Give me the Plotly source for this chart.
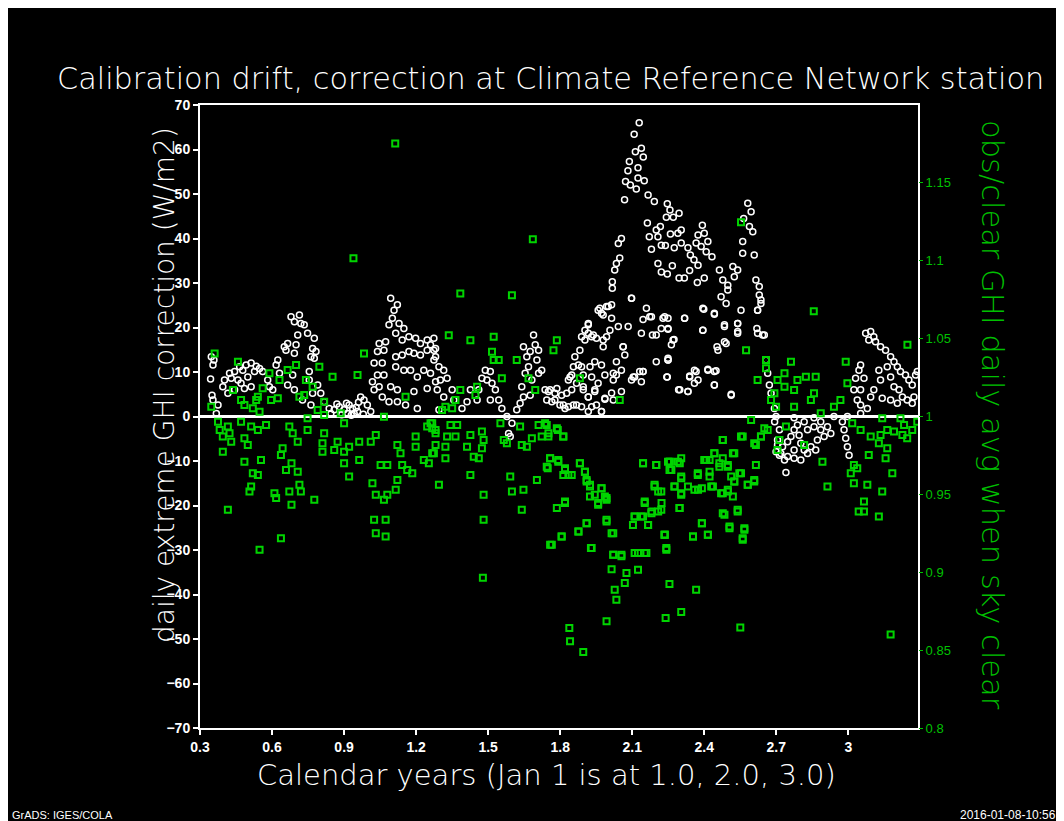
import plotly.graph_objects as go

# ---------------- data ----------------
# White series: daily extreme GHI correction (W/m2) vs calendar year
corr_years = [
    0.347,0.358,0.354,0.344,0.350,0.354,0.375,0.368,0.395,0.402,
    0.423,0.430,0.444,0.465,0.478,0.492,0.513,0.534,0.548,0.561,
    0.527,0.499,0.471,0.444,0.416,0.458,0.485,0.513,0.582,0.589,
    0.603,0.624,0.617,0.631,0.651,0.665,0.658,0.679,0.693,0.714,
    0.720,0.707,0.734,0.748,0.776,0.769,0.783,0.762,0.776,0.700,
    0.693,0.686,0.665,0.693,0.727,0.755,0.755,0.769,0.762,0.790,
    0.803,0.817,0.838,0.859,0.880,0.900,0.921,0.935,0.956,0.969,
    0.983,0.997,1.011,0.845,0.886,0.914,0.942,1.025,1.046,1.018,
    1.039,1.066,1.025,1.059,1.039,1.066,1.046,1.073,1.087,1.101,
    1.094,1.122,1.108,1.129,1.115,1.149,1.142,1.170,1.198,1.218,
    1.246,1.260,1.274,1.281,1.115,1.142,1.170,1.191,1.218,1.246,
    1.115,1.149,1.177,1.205,1.232,1.260,1.094,1.122,1.087,1.122,
    1.156,1.191,1.205,1.246,1.281,1.059,0.870,0.890,0.910,0.930,
    0.950,0.960,0.980,1.274,1.281,1.274,1.295,1.315,1.329,1.301,
    1.288,1.315,1.350,1.357,1.295,1.391,1.412,1.426,1.454,1.461,
    1.474,1.488,1.509,1.495,1.516,1.530,1.509,1.544,1.557,1.578,
    1.585,1.592,1.599,1.619,1.633,1.647,1.640,1.654,1.668,1.661,
    1.675,1.647,1.689,1.696,1.710,1.703,1.723,1.710,1.682,1.675,
    1.737,1.758,1.786,1.744,1.778,1.813,1.834,1.848,1.834,1.848,
    1.876,1.882,1.903,1.917,1.938,1.958,1.972,1.993,2.014,2.097,
    1.896,1.931,1.958,1.986,2.021,1.896,1.917,1.944,1.868,1.917,
    1.972,1.986,2.021,2.055,2.034,2.055,2.062,2.097,2.110,2.131,
    2.145,2.173,2.200,2.221,2.249,2.249,2.244,
    2.129,2.108,2.113,2.138,2.088,2.146,2.082,2.124,2.072,2.092,
    2.124,2.150,2.068,2.117,2.166,2.192,2.246,2.257,2.295,2.242,
    2.271,2.163,2.200,2.217,2.171,2.207,2.180,2.221,2.238,2.259,
    2.290,2.304,2.275,2.304,2.332,2.342,2.392,2.374,2.400,2.415,
    2.366,2.387,2.408,2.432,2.357,2.374,2.339,2.207,2.221,2.267,
    2.246,2.295,2.317,2.371,2.400,2.463,2.477,2.498,2.519,2.539,
    2.525,2.498,2.470,2.491,2.581,2.595,2.564,2.588,2.602,2.560,
    2.608,2.560,2.615,2.629,2.636,2.622,2.619,2.643,2.553,2.539,
    2.539,2.484,2.442,2.453,2.491,2.398,2.394,2.318,2.274,2.263,
    2.249,2.228,2.180,2.145,2.159,2.138,2.184,2.097,2.042,2.055,
    2.048,2.034,2.027,2.017,2.017,2.000,1.965,1.979,2.014,2.042,
    2.083,2.007,1.993,1.979,1.951,1.931,1.917,1.903,1.889,1.917,
    1.979,2.062,2.069,2.034,2.014,1.986,2.021,1.972,1.944,1.924,
    1.889,1.861,1.855,1.841,1.868,1.896,1.917,1.944,1.951,1.931,
    1.889,1.855,1.827,1.806,1.778,1.751,1.765,1.799,1.820,1.972,
    2.104,2.138,2.145,2.200,2.249,2.246,2.293,2.332,2.339,2.359,
    2.366,2.415,2.449,2.442,2.512,
    2.235,2.249,2.270,2.249,2.318,2.394,2.442,2.394,2.484,2.539,
    2.622,2.636,2.629,2.457,2.484,2.539,2.622,2.650,2.359,2.374,
    2.339,2.298,2.332,2.415,2.442,2.442,2.512,2.657,2.664,2.671,
    2.678,2.692,2.699,2.693,2.713,2.705,2.719,2.726,2.747,2.761,
    2.774,2.788,2.816,2.830,2.857,2.885,2.913,2.927,2.899,2.871,
    2.844,2.802,2.774,2.747,2.713,2.734,2.774,2.802,2.830,2.864,
    2.740,2.795,2.705,2.699,2.816,2.885,2.989,2.996,3.003,2.982,
    2.975,2.774,2.857,2.940,2.996,3.051,3.072,3.093,3.106,3.085,
    3.113,3.134,3.155,3.176,3.190,3.204,3.217,3.238,3.252,3.266,
    3.280,3.287,3.051,3.044,3.030,3.065,3.023,3.051,3.037,3.093,
    3.106,3.134,3.127,3.162,3.176,3.190,3.211,3.225,3.245,3.266,
    3.204,3.176,3.141,3.273,3.079,3.051,
]
corr_wm2 = [
    13.4,12.7,11.6,8.4,4.8,3.7,2.6,0.7,6.7,8.2,
    9.7,8.6,10.1,11.2,10.4,11.6,12.0,11.3,10.8,10.1,
    10.1,8.9,7.5,6.0,5.2,8.2,6.3,6.7,8.2,6.7,
    6.0,12.7,11.6,9.7,15.7,16.4,14.9,22.4,21.3,22.8,
    20.9,18.3,20.6,18.7,17.6,15.3,14.6,13.4,13.1,16.1,
    14.2,9.3,7.1,6.0,3.7,10.1,8.2,5.2,2.6,7.1,
    5.2,3.3,1.8,1.5,2.2,1.5,2.6,1.8,1.1,4.4,
    3.7,2.6,1.1,0.7,0.7,0.7,0.7,6.0,6.7,7.8,
    9.3,9.3,12.0,12.0,14.6,14.9,16.4,16.8,20.6,22.1,
    26.6,25.1,23.9,20.9,18.7,19.8,17.2,17.9,17.6,16.4,
    17.2,16.1,14.9,13.4,13.4,13.8,14.6,14.2,13.8,14.9,
    11.2,10.4,10.4,8.9,10.4,9.7,6.7,6.0,3.3,3.3,
    2.6,5.6,1.8,6.3,7.8,4.4,2.8,0.4,3.0,0.3,
    2.0,3.2,0.5,17.6,15.3,12.7,11.2,10.4,8.6,8.2,
    6.0,4.4,6.0,3.7,1.5,1.8,3.3,6.0,3.7,6.0,
    8.6,10.4,10.1,8.2,7.5,6.0,3.7,3.7,1.8,0.0,
    -3.8,-4.5,-1.5,1.5,3.0,4.4,6.7,9.7,11.2,13.4,
    14.6,15.7,18.3,16.1,14.9,12.7,10.4,9.7,8.2,4.8,
    6.0,6.0,6.3,3.7,3.7,2.6,2.2,6.0,8.2,9.3,
    11.6,14.9,17.2,20.6,18.3,23.9,23.2,24.7,25.1,26.6,
    9.3,8.9,7.5,9.3,9.7,6.7,4.4,6.0,2.6,1.1,
    1.1,4.1,3.7,5.6,12.3,10.4,15.7,8.2,8.9,10.1,
    10.1,22.4,18.3,19.8,19.8,12.7,8.9,
    66.0,63.4,59.5,60.3,57.3,58.3,55.2,55.9,52.8,52.0,
    53.6,53.0,48.7,51.1,49.8,48.3,47.8,46.4,45.7,44.8,
    44.8,43.5,41.9,42.7,40.4,40.4,37.6,38.5,38.4,41.0,
    41.2,41.9,37.9,39.0,37.9,36.3,43.0,40.8,41.2,39.3,
    39.0,38.2,37.0,35.9,35.2,34.0,32.8,34.4,32.5,33.9,
    32.0,31.1,31.1,30.1,31.1,32.9,30.7,29.5,33.7,32.9,
    31.4,28.4,26.9,25.4,47.9,46.0,44.5,42.7,41.5,39.3,
    36.3,36.7,30.7,29.2,26.2,23.9,19.8,18.3,23.9,20.9,
    18.7,20.2,23.2,15.7,16.4,24.1,19.4,22.1,17.3,16.1,
    22.1,22.1,22.4,21.8,24.3,18.7,18.3,26.6,38.9,40.0,
    35.6,34.4,32.9,30.3,28.8,24.7,24.3,22.8,22.1,20.2,
    20.2,19.4,17.9,17.2,17.6,17.9,18.7,19.4,17.9,20.9,
    15.7,15.7,13.8,9.3,5.3,3.9,8.2,11.6,12.3,11.2,
    11.2,13.4,11.2,8.9,7.5,6.0,4.4,5.6,2.6,2.2,
    2.2,2.6,5.2,4.8,5.2,5.6,3.3,2.6,1.8,1.1,
    8.9,7.8,10.1,12.3,13.1,8.9,6.0,5.6,9.1,7.5,
    10.1,10.6,10.3,7.1,5.0,
    22.4,19.6,17.2,12.7,22.1,24.3,23.0,19.4,20.6,20.9,
    23.9,25.4,27.3,14.9,16.8,19.1,18.7,18.3,10.4,8.2,
    8.9,6.0,5.6,10.4,10.1,7.1,4.8,12.7,9.7,7.1,
    5.2,1.8,0.0,-1.2,-3.0,-5.3,-8.3,-6.8,-5.7,-4.5,
    -3.0,-1.9,-1.2,-3.0,-2.3,-3.0,-2.3,-3.8,-4.5,-5.3,
    -6.8,-6.0,-7.5,-9.0,-8.7,-9.8,-9.4,-9.8,-8.3,-7.5,
    -12.6,-4.2,-6.4,-7.9,-7.5,-1.2,-4.9,-6.8,-8.7,-3.0,
    -1.2,-0.3,-0.3,0.0,0.0,0.7,18.7,19.1,17.9,17.2,
    16.8,15.7,14.9,13.4,12.3,11.2,10.1,9.3,8.2,7.1,
    9.3,10.1,11.6,10.4,8.6,8.6,6.0,6.0,3.7,4.4,
    6.0,8.2,10.4,11.2,8.9,6.7,6.0,4.4,3.7,3.0,
    3.0,3.7,4.1,4.4,1.8,2.6,
]

# Green series: obs/clear GHI daily avg when sky clear vs calendar year
ratio_years = [
    0.361,0.347,0.375,0.382,0.395,0.395,0.423,0.416,0.430,0.437,
    0.458,0.471,0.485,0.471,0.485,0.499,0.513,0.520,0.534,0.541,
    0.548,0.541,0.485,0.520,0.541,0.513,0.506,0.554,0.575,0.561,
    0.589,0.596,0.624,0.631,0.665,0.700,0.672,0.686,0.707,0.644,
    0.637,0.681,0.658,0.707,0.610,0.617,0.672,0.714,0.720,0.681,
    0.776,0.416,0.637,0.548,0.741,0.748,0.714,0.734,0.797,0.769,
    0.790,0.817,0.817,0.810,0.810,0.852,0.873,0.859,0.900,0.900,
    0.921,0.921,0.900,0.886,0.817,0.748,0.956,0.983,0.963,0.963,
    1.011,1.018,1.032,1.032,1.052,1.080,1.066,1.080,1.025,1.032,
    1.073,1.073,1.066,1.122,1.135,1.122,1.115,1.142,1.163,1.184,
    1.198,1.198,1.156,1.232,1.253,1.267,1.267,1.246,1.260,1.281,
    1.336,1.426,1.523,1.384,1.599,1.516,1.523,1.544,1.557,1.619,
    1.668,1.696,1.786,1.772,1.882,2.048,1.454,1.447,1.384,1.364,
    1.350,1.322,1.308,1.267,1.281,1.281,1.274,1.329,1.322,1.322,
    1.343,1.364,1.371,1.412,1.426,1.440,1.461,1.474,1.481,1.474,
    1.426,1.295,1.481,1.481,1.551,1.565,1.578,1.633,1.640,1.661,
    1.682,1.710,1.723,1.744,1.751,1.786,1.813,1.758,1.792,1.820,
    1.813,1.848,1.744,1.703,1.647,1.592,1.640,1.599,1.882,1.903,
    1.910,1.924,1.944,1.958,1.993,1.972,1.820,1.786,1.910,1.876,
    1.806,1.758,1.931,2.021,2.055,1.993,2.021,2.110,2.138,2.166,
    2.180,2.221,2.235,2.152,2.193,2.221,2.145,2.200,2.249,2.256,
    2.110,2.152,2.103,1.478,
    1.737,1.751,1.790,1.813,1.758,1.792,1.748,1.882,1.820,1.834,
    1.903,1.910,1.924,1.972,1.986,1.924,1.958,1.993,1.820,1.910,
    1.876,1.806,1.765,1.928,1.993,2.014,2.021,2.055,2.014,2.076,
    2.069,2.027,2.034,1.993,2.124,2.124,2.159,2.145,2.110,2.152,
    2.166,2.180,2.208,2.235,2.242,2.193,2.208,2.222,2.145,2.200,
    2.256,2.263,2.304,2.290,2.304,2.276,2.304,2.332,2.297,2.255,
    2.304,2.239,2.366,1.838,1.841,1.896,2.550,2.408,2.422,2.442,
    2.477,2.463,2.498,2.373,2.422,2.436,2.374,2.470,2.498,2.519,
    2.525,2.553,2.581,2.608,2.615,2.477,2.525,2.553,2.608,2.636,
    2.650,2.390,2.415,2.353,2.484,2.505,2.539,2.567,2.560,
    2.574,2.657,2.657,2.622,2.705,2.734,2.761,2.823,2.864,2.989,
    2.996,2.857,2.774,2.734,2.692,2.678,2.699,2.774,2.844,2.940,
    2.967,2.885,2.788,2.595,2.664,2.636,2.615,2.560,2.477,2.519,
    2.442,2.408,2.463,2.498,2.546,2.581,2.608,2.298,2.256,2.256,
    2.304,2.276,2.304,2.359,2.390,2.422,2.429,2.373,2.400,2.512,
    2.525,2.498,2.477,2.539,2.505,2.567,2.560,2.390,2.415,2.353,
    2.297,2.235,2.242,2.477,2.740,2.713,2.705,2.816,2.892,3.016,
    3.051,3.093,3.134,3.162,3.190,3.225,3.232,3.245,3.127,3.162,
    3.085,3.155,3.023,3.037,3.010,3.183,2.913,3.023,3.079,3.141,
    3.065,3.065,3.127,3.266,3.287,3.217,3.141,3.246,3.176,3.043,
    1.113,0.939,1.686,2.553,2.856,
]
ratio_vals = [
    1.0405,1.0063,0.9967,0.9913,0.9871,0.9774,0.9892,0.9935,0.9838,1.0170,
    1.0351,1.0106,1.0074,0.9967,0.9860,0.9817,0.9935,1.0053,1.0106,1.0127,
    1.0031,0.9913,0.9710,0.9636,0.9625,0.9550,0.9518,0.9721,0.9946,1.0181,
    1.0277,1.0106,1.0117,1.0234,1.0298,1.0330,0.9935,0.9892,0.9838,0.9796,
    0.9753,0.9700,0.9657,0.9646,0.9508,0.9476,0.9518,0.9561,0.9518,0.9433,
    0.9465,0.9401,0.9219,0.9144,1.0234,0.9988,1.0127,1.0138,1.0319,1.0191,
    1.0042,1.0095,0.9892,0.9828,0.9774,1.0255,0.9838,0.9785,0.9774,0.9700,
    0.9806,0.9614,0.9956,1.0021,1.0010,0.9913,1.0266,1.0405,0.9838,0.9721,
    0.9838,0.9572,0.9881,0.9497,0.9689,0.9689,0.9465,0.9497,0.9337,0.9251,
    0.9337,0.9230,0.9999,0.9817,0.9764,0.9593,0.9529,0.9689,0.9657,0.9636,
    0.9871,0.9806,1.0127,0.9721,0.9700,0.9764,0.9924,0.9935,0.9956,0.9913,
    1.0522,1.0490,1.0512,1.0790,1.0779,1.0415,1.0362,1.0362,1.0245,1.0362,
    1.0245,1.0170,1.0490,1.0426,1.0245,1.0106,1.0191,1.0138,1.0170,1.0106,
    1.0053,1.0063,1.0042,0.9956,0.9892,0.9817,0.9764,0.9871,0.9806,0.9732,
    0.9946,0.9871,0.9946,0.9806,0.9881,0.9742,0.9732,0.9903,0.9849,0.9796,
    0.9625,0.9561,0.9497,0.9337,0.9956,0.9849,0.9828,0.9935,0.9817,0.9806,
    0.9860,0.9946,0.9871,0.9946,0.9892,0.9924,0.9871,0.9732,0.9721,0.9657,
    0.9625,0.9625,0.9678,0.9593,0.9529,0.9614,0.9401,0.9518,0.9700,0.9646,
    0.9582,0.9550,0.9497,0.9444,0.9476,0.9540,0.9454,0.9412,0.9315,0.9262,
    0.9230,0.9176,0.9155,0.9112,0.9112,0.9337,0.9251,0.9358,0.9358,0.9304,
    0.9390,0.9401,0.9240,0.9454,0.9561,0.9518,0.9700,0.9689,0.9710,0.9657,
    0.9123,0.9123,0.9304,0.8965,
    0.9956,0.9871,0.9913,0.9871,0.9732,0.9710,0.9668,0.9700,0.9668,0.9625,
    0.9646,0.9593,0.9561,0.9540,0.9486,0.9486,0.9433,0.9465,0.9444,0.9315,
    0.9262,0.9230,0.9176,0.9155,0.9326,0.9251,0.9112,0.9102,0.9020,0.8995,
    0.8931,0.8888,0.8824,0.8685,0.9016,0.9123,0.9123,0.9358,0.9358,0.9444,
    0.9304,0.9379,0.9390,0.9240,0.9144,0.9550,0.9518,0.9444,0.9700,0.9689,
    0.9710,0.9657,0.9732,0.9710,0.9604,0.9550,0.9497,0.9550,0.9412,0.8924,
    0.8745,0.8706,0.8888,0.8642,0.8557,0.8488,0.8646,0.9721,0.9721,0.9764,
    0.9732,0.9678,0.9689,0.9625,0.9646,0.9550,0.9529,0.9508,0.9529,0.9486,
    0.9582,0.9636,0.9561,0.9593,0.9689,0.9849,0.9764,0.9871,0.9828,0.9871,
    0.9924,0.9315,0.9240,0.9230,0.9369,0.9283,0.9390,0.9283,0.9208,
    1.0426,1.0362,1.0309,1.0234,1.0234,1.0277,1.0351,1.0255,1.0255,1.0351,
    1.0213,1.0149,1.0170,1.0191,1.0149,1.0106,1.0063,1.0063,1.0106,1.0063,
    1.0106,1.0021,1.0234,0.9978,0.9913,0.9871,0.9817,0.9871,0.9849,0.9764,
    0.9764,0.9721,0.9700,0.9678,0.9636,0.9561,0.9582,0.9700,0.9710,0.9657,
    0.9614,0.9550,0.9508,0.9529,0.9540,0.9614,0.9550,0.9636,0.9721,0.9614,
    0.9582,0.9518,0.9508,0.9401,0.9294,0.9273,0.9219,0.9315,0.9240,0.9230,
    0.9412,0.9240,0.9155,0.9379,0.9935,0.9849,0.9785,0.9817,0.9710,0.9956,
    0.9913,0.9871,0.9881,0.9913,0.9903,0.9881,0.9946,0.9860,0.9828,0.9796,
    0.9753,0.9732,0.9689,0.9668,0.9636,0.9636,0.9550,0.9572,0.9561,0.9518,
    0.9454,0.9390,0.9358,0.9913,0.9967,0.9988,0.9988,1.0460,0.8600,0.9390,
    1.1753,1.1016,1.1138,1.1247,1.0676,
]

x_ticks = [0.3, 0.6, 0.9, 1.2, 1.5, 1.8, 2.1, 2.4, 2.7, 3.0]
x_tick_text = ["0.3", "0.6", "0.9", "1.2", "1.5", "1.8", "2.1", "2.4", "2.7", "3"]
left_ticks = list(range(-70, 71, 10))
right_ticks = [0.8, 0.85, 0.9, 0.95, 1.0, 1.05, 1.1, 1.15]
right_tick_text = ["0.8", "0.85", "0.9", "0.95", "1", "1.05", "1.1", "1.15"]

TITLE = "Calibration drift, correction at Climate Reference Network station"
X_TITLE = "Calendar years (Jan 1 is at 1.0, 2.0, 3.0)"
Y_TITLE = "daily extreme GHI correction (W/m2)"
Y2_TITLE = "obs/clear GHI daily avg when sky clear"

# ---------------- figure ----------------
GREEN = "#00d400"
GREEN_TXT = "#00c000"
TICKFONT = dict(family="Liberation Sans Narrow, Liberation Sans, Arial", size=14,
                color="white", weight="bold")
LABELFONT = "DejaVu Sans, Noto Sans, sans-serif"

fig = go.Figure()
fig.add_trace(go.Scatter(
    x=corr_years, y=corr_wm2, mode="markers", yaxis="y", showlegend=False,
    marker=dict(symbol="circle-open", size=6, color="white", line=dict(width=1.5, color="white")),
))
fig.add_trace(go.Scatter(
    x=ratio_years, y=ratio_vals, mode="markers", yaxis="y2", showlegend=False,
    marker=dict(symbol="square-open", size=6, color=GREEN, line=dict(width=2, color=GREEN)),
))

# the page body adds an 8px offset; plot area lands at 200..918 x 105..728 on screen
fig.update_layout(
    width=1064, height=821,
    paper_bgcolor="black", plot_bgcolor="black",
    margin=dict(l=192, r=154, t=97, b=101),
    xaxis=dict(range=[0.3, 3.29], tickvals=x_ticks, ticktext=x_tick_text,
               showgrid=False, zeroline=False, showline=True, mirror=True,
               linecolor="white", linewidth=2, ticks="outside", ticklen=5,
               tickcolor="white", tickwidth=1.5, tickfont=TICKFONT),
    yaxis=dict(range=[-70, 70], tickvals=left_ticks, showgrid=False,
               zeroline=True, zerolinecolor="white", zerolinewidth=3,
               showline=True, mirror=True, linecolor="white", linewidth=2,
               ticks="outside", ticklen=5, tickcolor="white", tickwidth=1.5,
               tickfont=TICKFONT),
    yaxis2=dict(range=[0.8, 1.2], overlaying="y", side="right",
                tickvals=right_ticks, ticktext=right_tick_text,
                showgrid=False, zeroline=False, showline=False,
                ticks="outside", ticklen=4, tickcolor=GREEN_TXT,
                tickfont=dict(family="Liberation Sans Narrow, Liberation Sans, Arial",
                              size=13, color=GREEN_TXT)),
)

def ann(text, x, y, size, color="white", angle=0, xanchor="center",
        family=LABELFONT, weight=200):
    fig.add_annotation(text=text, x=x, y=y, xref="paper", yref="paper",
                       showarrow=False, textangle=angle, xanchor=xanchor,
                       yanchor="middle",
                       font=dict(family=family, size=size, color=color, weight=weight))

ann(TITLE, -0.2019, 1.0433, 30.3, xanchor="left")
ann(Y_TITLE, -0.0487, 0.5506, 28, angle=-90)
ann(Y2_TITLE, 1.1045, 0.5024, 30.5, color=GREEN_TXT, angle=90)
ann(X_TITLE, 0.4819, -0.0754, 29)
ann("GrADS: IGES/COLA", -0.2646, -0.1396, 11, xanchor="left",
    family="Liberation Sans, Arial", weight=400)
ann("2016-01-08-10:56", 1.1950, -0.1396, 12, xanchor="right",
    family="Liberation Sans, Arial", weight=400)

fig.write_html("out.html")
